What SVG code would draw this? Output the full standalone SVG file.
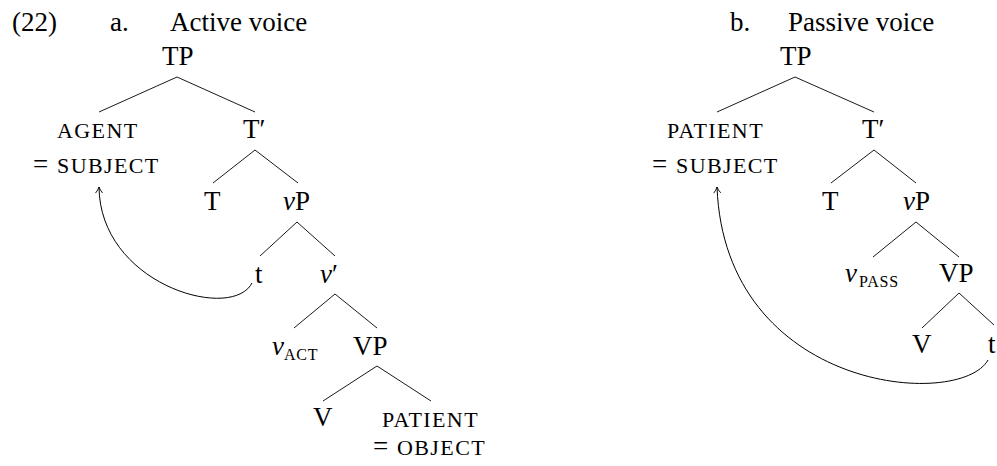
<svg xmlns="http://www.w3.org/2000/svg" width="997" height="466" viewBox="0 0 997 466">
<style>
text{font-family:"Liberation Serif","Times New Roman",serif;fill:#000}
.l{font-size:27px}
.sc{font-size:22px;letter-spacing:1.4px}
.sub{font-size:16px;letter-spacing:0.8px}
.i{font-style:italic}
.e{stroke:#000;stroke-width:0.9;fill:none}
.mv{stroke:#000;stroke-width:1;fill:none}
</style>
<defs>
<marker id="ah" markerWidth="10" markerHeight="10" refX="8" refY="5" orient="auto" markerUnits="userSpaceOnUse">
<path d="M2 1.5 Q5 4 8 5 Q5 6 2 8.5" fill="none" stroke="#000" stroke-width="0.9"/>
</marker>
</defs>
<g id="headings">
<text class="l" x="12" y="31">(22)</text>
<text class="l" x="110" y="31">a.</text>
<text class="l" x="170" y="31">Active voice</text>
<text class="l" x="730" y="31">b.</text>
<text class="l" x="788" y="31">Passive voice</text>
</g>
<g id="tree-a">
<g id="a-TP"><text class="l" x="162" y="65">TP</text></g>
<g id="a-AGENT"><text class="sc" x="57" y="138">AGENT</text><text x="33" y="173"><tspan class="l">=</tspan><tspan class="sc" x="57">SUBJECT</tspan></text></g>
<g id="a-Tbar"><text class="l" x="243" y="138">T′</text></g>
<g id="a-T"><text class="l" x="204" y="210">T</text></g>
<g id="a-vP"><text class="l" x="283" y="210"><tspan class="i">v</tspan>P</text></g>
<g id="a-t"><text class="l" x="255" y="283">t</text></g>
<g id="a-vbar"><text class="l" x="320" y="283"><tspan class="i">v</tspan>′</text></g>
<g id="a-vACT"><text class="l i" x="272" y="355">v</text><text class="sub" x="284" y="360">ACT</text></g>
<g id="a-VP"><text class="l" x="353" y="355">VP</text></g>
<g id="a-V"><text class="l" x="313" y="426">V</text></g>
<g id="a-PATIENT"><text class="sc" x="382" y="427">PATIENT</text><text x="373" y="455"><tspan class="l">=</tspan><tspan class="sc" x="397">OBJECT</tspan></text></g>
</g>
<g id="tree-b">
<g id="b-TP"><text class="l" x="780" y="65">TP</text></g>
<g id="b-PATIENT"><text class="sc" x="667" y="138">PATIENT</text><text x="652" y="173"><tspan class="l">=</tspan><tspan class="sc" x="676">SUBJECT</tspan></text></g>
<g id="b-Tbar"><text class="l" x="862" y="138">T′</text></g>
<g id="b-T"><text class="l" x="822" y="210">T</text></g>
<g id="b-vP"><text class="l" x="903" y="210"><tspan class="i">v</tspan>P</text></g>
<g id="b-vPASS"><text class="l i" x="845" y="282">v</text><text class="sub" x="859" y="287">PASS</text></g>
<g id="b-VP"><text class="l" x="939" y="282">VP</text></g>
<g id="b-V"><text class="l" x="912" y="353">V</text></g>
<g id="b-t"><text class="l" x="988" y="353">t</text></g>
</g>
<g id="connectors">
<path class="e" d="M177 77L99 112M177 77L255 112M255 150L213 183M255 150L298 183M297 222L260 256M297 222L335 256M335 294L294 328M335 294L377 328M377 366L323 401M377 366L431 401"/>
<path class="e" d="M795 77L717 112M795 77L874 112M874 150L831 183M874 150L916 183M916 222L873 257M916 222L959 257M959 293L922 328M959 293L994 325"/>
<path class="mv" marker-end="url(#ah)" d="M252 283C232 322 100 285 99 187"/>
<path class="mv" marker-end="url(#ah)" d="M988 360C960 410 725 392 717 187"/>
</g>
</svg>
